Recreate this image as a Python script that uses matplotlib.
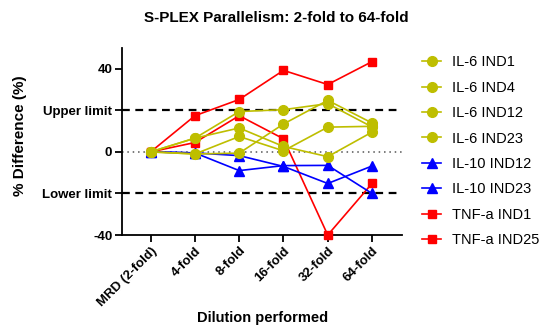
import matplotlib
matplotlib.use('Agg')
import matplotlib.pyplot as plt

plt.rcParams['font.family'] = ['Liberation Sans', 'DejaVu Sans']

# dilution steps on x axis
dilutions = ['MRD (2-fold)', '4-fold', '8-fold', '16-fold', '32-fold', '64-fold']

# % difference per sample
il6_ind1 = [0, 6.6, 19.4, 20.3, 23.2, 12.0]
il6_ind4 = [0, -1.0, -0.6, 13.4, 24.8, 13.9]
il6_ind12 = [0, 6.6, 11.5, 2.6, -2.3, 9.5]
il6_ind23 = [0, -1.0, 7.4, 0.5, 11.9, 12.3]
il10_ind12 = [0, -0.5, -9.0, -6.6, -6.5, -20.0]
il10_ind23 = [0, -0.5, -1.8, -7.0, -15.2, -6.8]
tnfa_ind1 = [0, 17.4, 25.2, 39.2, 32.4, 43.4]
tnfa_ind25 = [0, 4.5, 17.4, 6.3, -40.0, -15.2]

series = [
    ('IL-6 IND1', il6_ind1, '#BEBE00', 'o'),
    ('IL-6 IND4', il6_ind4, '#BEBE00', 'o'),
    ('IL-6 IND12', il6_ind12, '#BEBE00', 'o'),
    ('IL-6 IND23', il6_ind23, '#BEBE00', 'o'),
    ('IL-10 IND12', il10_ind12, '#0000FF', '^'),
    ('IL-10 IND23', il10_ind23, '#0000FF', '^'),
    ('TNF-a IND1', tnfa_ind1, '#FF0000', 's'),
    ('TNF-a IND25', tnfa_ind25, '#FF0000', 's'),
]

yticks = [-40, -20, 0, 20, 40]
ytick_labels = ['-40', 'Lower limit', '0', 'Upper limit', '40']

fig = plt.figure(figsize=(5.43, 3.26), dpi=100)
ax = fig.add_axes([0.2247, 0.279, 0.515, 0.574])

x = list(range(len(dilutions)))
n = len(series)
for i, (name, vals, col, mk) in enumerate(series):
    ms = 7 if mk == 'o' else (6.3 if mk == 's' else 7)
    ax.plot(x, vals, color=col, marker=mk, ms=ms, lw=1.2, label=name,
            zorder=10 + n - i, clip_on=False)

ax.axhline(20, color='black', lw=1.6, ls=(0, (3.5, 2.5)), zorder=1)
ax.axhline(-20, color='black', lw=1.6, ls=(0, (3.5, 2.5)), zorder=1)
ax.axhline(0, color='#555555', lw=1.1, ls=(0, (1, 2.5)), zorder=1)

ax.set_xlim(-0.648, 5.67)
ax.set_ylim(-40, 50)
ax.set_yticks(yticks)
ax.set_yticklabels(ytick_labels, fontweight='bold', fontsize=9.5)
ax.set_xticks(x)
ax.set_xticklabels(dilutions, rotation=45, ha='right', rotation_mode='anchor',
                   fontweight='bold', fontsize=9.5)

for s in ['top', 'right']:
    ax.spines[s].set_visible(False)
for s in ['left', 'bottom']:
    ax.spines[s].set_linewidth(1.3)
ax.tick_params(axis='both', direction='out', length=5, width=1.3, pad=2)

ax.set_ylabel('% Difference (%)', fontweight='bold', fontsize=11)
ax.yaxis.set_label_coords(-0.34, 0.53)
fig.text(0.483, 0.025, 'Dilution performed', fontweight='bold', fontsize=10.5,
         ha='center', va='center')
fig.text(0.508, 0.945, 'S-PLEX Parallelism: 2-fold to 64-fold', fontweight='bold',
         fontsize=11, ha='center', va='center')

leg = fig.legend(loc='upper left', bbox_to_anchor=(0.778, 0.83), frameon=False,
                 fontsize=10.5, handlelength=1.3, handletextpad=0.75,
                 labelspacing=0.78, borderpad=0, borderaxespad=0)

fig.savefig('out.png', dpi=100)
